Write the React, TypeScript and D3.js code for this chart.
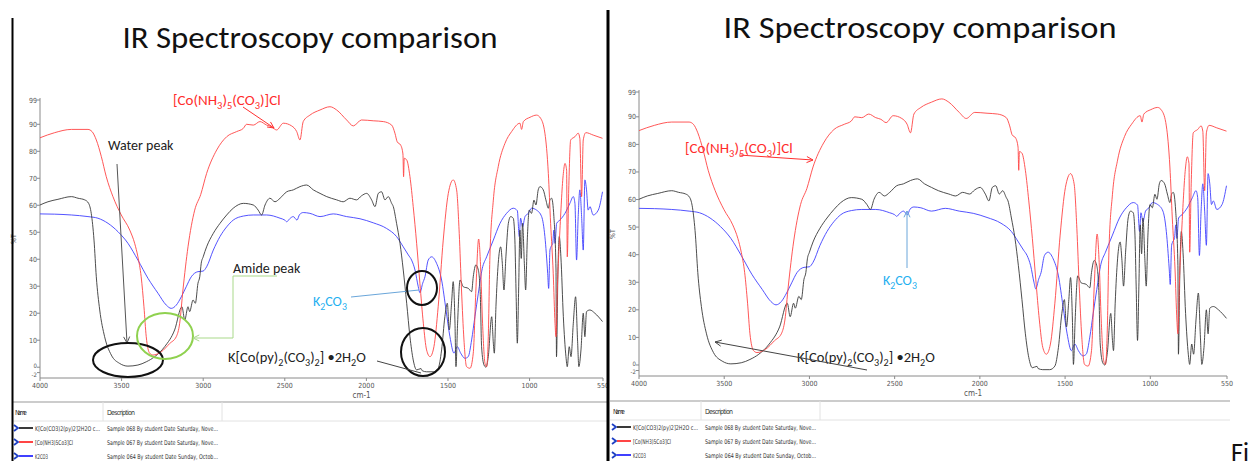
import * as d3 from 'd3';

type Pt = [number, number];
type Seg = [string, boolean];

// axis ticks as printed by the instrument software
const xTicks = [4000, 3500, 3000, 2500, 2000, 1500, 1000, 550];
const yTicks = [99, 90, 80, 70, 60, 50, 40, 30, 20, 10, 0, -2];

// K[Co(py)2(CO3)2]·2H2O (black trace), [wavenumber, %T]
const complexSpectrum: Pt[] = [
  [4000, 60.1], [3951, 61.3], [3890, 62.2], [3808, 63.2], [3767, 62.6], [3726, 62], [3702, 60.7], [3686, 57],
  [3669, 47.1], [3655, 33.5], [3634, 21.2], [3604, 11.3], [3563, 4.5], [3512, 1.4], [3461, 0.4], [3400, 0.8],
  [3349, 2], [3297, 3.9], [3236, 7.6], [3175, 13.8], [3130, 22.4], [3113, 17.5], [3093, 22.4], [3083, 20.6],
  [3062, 24.9], [3048, 23.7], [3032, 31.1], [3021, 33.5], [3012, 38.5], [3000, 40.9], [2979, 44.6], [2938, 49.6],
  [2897, 53.3], [2856, 56.4], [2816, 58.9], [2754, 60.7], [2693, 60.1], [2663, 58.2], [2642, 56.4], [2621, 60.1],
  [2591, 62.6], [2560, 61.3], [2529, 62.6], [2488, 65], [2448, 65.7], [2407, 66.9], [2366, 67.5], [2325, 65.7],
  [2284, 64.4], [2243, 63.2], [2182, 62], [2142, 61.3], [2101, 62.6], [2060, 62], [2030, 63.5], [1998, 64.4],
  [1968, 62], [1947, 59.5], [1927, 64.4], [1907, 65], [1886, 62], [1866, 63.2], [1845, 60.7], [1835, 59.5],
  [1815, 53.3], [1794, 45.9], [1774, 36], [1753, 23.7], [1733, 11.3], [1713, 2.7], [1692, -1], [1665, -0.5],
  [1658, -1.3], [1631, -1.7], [1590, -1.7], [1560, -0.4], [1539, 6.4], [1519, 18.7], [1504, 23.7], [1492, 13.8],
  [1478, 23.7], [1468, 31.7], [1457, 16.3], [1451, 0.2], [1441, 16.3], [1426, 32.3], [1406, 29.8], [1375, 29.2],
  [1355, 28], [1345, 33.5], [1329, 37.9], [1314, 36], [1302, 27], [1294, 7.6], [1279, 0.8], [1267, 0],
  [1253, 3.9], [1232, 18.7], [1222, 8.9], [1216, 5.2], [1206, 22.4], [1192, 38.5], [1177, 44.6], [1167, 38.5],
  [1157, 28.6], [1145, 40.9], [1130, 53.3], [1116, 55.8], [1100, 55.2], [1090, 47.1], [1083, 28.6], [1075, 8.9],
  [1067, 28.6], [1059, 50.8], [1051, 40.3], [1043, 53.3], [1032, 38.5], [1024, 28.6], [1014, 47.1], [1002, 58.2],
  [988, 57], [973, 61.9], [961, 60.1], [947, 65.7], [936, 66.9], [916, 65.7], [900, 62], [885, 58.9],
  [875, 62], [865, 62.6], [851, 55.8], [838, 36], [835, 3.9], [826, 36], [818, 48.4], [808, 40.9],
  [793, 18.7], [777, 3.9], [769, 0.2], [757, 7.6], [746, 3.9], [732, 16.3], [718, 26.1], [706, 10.1],
  [698, 0.2], [685, 6.4], [671, 20], [661, 11.3], [651, 20.6], [630, 21.2], [600, 20], [553, 16.9],
];

// [Co(NH3)5(CO3)]Cl (red trace)
const ammineSpectrum: Pt[] = [
  [4000, 85], [3910, 86.9], [3808, 88.1], [3706, 88.1], [3681, 87.3], [3655, 84.2], [3624, 78], [3594, 70.6],
  [3553, 63.2], [3502, 56.4], [3450, 50.8], [3420, 45.9], [3400, 40.9], [3380, 33.5], [3363, 22.4], [3349, 11.3],
  [3328, 5.2], [3308, 4.5], [3257, 5.7], [3205, 8.8], [3165, 11.3], [3144, 16.3], [3124, 28.6], [3093, 44.6],
  [3052, 58.2], [3015, 64], [2979, 71.8], [2917, 80.5], [2856, 85.4], [2795, 87.3], [2754, 88.5], [2734, 90],
  [2693, 89.7], [2652, 91], [2611, 89.7], [2581, 89.1], [2550, 87.9], [2509, 90.4], [2458, 89.4], [2427, 87.3],
  [2407, 84.2], [2387, 91], [2346, 93.4], [2284, 95.3], [2223, 96.5], [2182, 95.3], [2121, 91.6], [2080, 89.4],
  [2030, 91.6], [1958, 91.3], [1896, 91], [1845, 89.7], [1825, 86.7], [1811, 83.5], [1790, 82.3], [1776, 79],
  [1772, 70.6], [1768, 77.4], [1753, 76.8], [1733, 70.6], [1713, 59.5], [1692, 45.9], [1672, 31.1], [1651, 16.3],
  [1631, 6.4], [1610, 3.9], [1586, 7.6], [1560, 22.4], [1529, 47.1], [1498, 64.4], [1468, 69.4], [1447, 65.7],
  [1431, 49.6], [1417, 28.6], [1402, 10.1], [1386, 0.2], [1365, -0.4], [1345, 5.2], [1329, 28.6], [1312, 47.5],
  [1300, 37.2], [1288, 16.3], [1273, 1.4], [1263, 0.2], [1253, 11.3], [1243, 40.9], [1222, 61.9], [1192, 74.3],
  [1151, 82.9], [1110, 87.3], [1059, 90.4], [1049, 88.1], [1038, 91], [997, 92.6], [957, 93.4], [932, 92.2],
  [906, 86.7], [885, 71.8], [871, 53.3], [855, 34.8], [844, 16.3], [838, 11.3], [830, 28.6], [814, 50.8],
  [793, 71.8], [783, 75.5], [773, 73], [769, 40.9], [760, 65.7], [748, 84.2], [722, 85.4], [702, 86.7],
  [692, 84.8], [681, 63.2], [671, 84.2], [655, 86.9], [610, 86], [553, 84.8],
];

// K2CO3 (blue trace)
const carbonateSpectrum: Pt[] = [
  [4000, 56.8], [3910, 56.7], [3808, 56.4], [3706, 55.8], [3645, 55.2], [3583, 53.3], [3522, 50.2], [3461, 45.9],
  [3400, 39.7], [3338, 32.9], [3277, 27.4], [3226, 23], [3196, 21.8], [3165, 23], [3134, 26.1], [3104, 29.8],
  [3073, 33.5], [3032, 35.4], [3001, 35.6], [2979, 37.2], [2938, 43.4], [2897, 48.4], [2856, 52], [2816, 54.5],
  [2754, 56], [2693, 56.4], [2611, 56.4], [2529, 55.2], [2500, 54.5], [2488, 53.9], [2470, 55], [2448, 55.8],
  [2425, 54.5], [2410, 56.5], [2387, 57.3], [2346, 57], [2284, 55.8], [2203, 56.8], [2121, 55.8], [2039, 55],
  [1958, 53.5], [1876, 51.4], [1815, 48.4], [1774, 44.6], [1743, 41.6], [1723, 39.7], [1702, 36], [1682, 29.8],
  [1672, 27.6], [1655, 31.1], [1641, 33.5], [1621, 39.7], [1600, 40.9], [1570, 38.5], [1539, 32.3], [1512, 21.2],
  [1488, 11.3], [1463, 5.2], [1443, 7.6], [1422, 5.2], [1396, 3.3], [1376, 3.9], [1355, 10.1], [1335, 18.7],
  [1314, 27.4], [1290, 36.5], [1263, 40.9], [1222, 47.1], [1181, 53.3], [1141, 57], [1100, 58.9], [1075, 58],
  [1063, 48.4], [1055, 55.2], [1043, 52], [1028, 55.8], [1008, 57], [988, 58.9], [957, 58.2], [926, 55.8],
  [906, 48.4], [889, 34.8], [883, 29.2], [875, 43.4], [869, 44.6], [858, 45.9], [851, 50.8], [844, 45.9],
  [834, 53.3], [814, 54.5], [783, 57], [753, 60.7], [732, 63.2], [722, 60.7], [712, 39.7], [702, 55.8],
  [692, 65.7], [681, 55.8], [671, 43.4], [661, 69.4], [651, 65.7], [641, 58.2], [630, 59.5], [610, 56.4],
  [579, 58.2], [553, 65],
];

const seriesNames = ['K[Co(CO3)2(py)2]2H2O c...', '[Co(NH3)5Co3]Cl', 'K2CO3'];
const seriesDescriptions = [
  'Sample 068 By student Date Saturday, Nove...',
  'Sample 067 By student Date Saturday, Nove...',
  'Sample 064 By student Date Sunday, Octob...',
];
const seriesColors = ['#3a3a3a', '#ff4545', '#4040ff'];

const ammineLabel: Seg[] = [['[Co(NH', false], ['3', true], [')', false], ['5', true], ['(CO', false], ['3', true], [')]Cl', false]];
const complexLabel: Seg[] = [['K[Co(py)', false], ['2', true], ['(CO', false], ['3', true], [')', false], ['2', true], ['] \u20222H', false], ['2', true], ['O', false]];
const carbonateLabel: Seg[] = [['K', false], ['2', true], ['CO', false], ['3', true]];

const ANNO_FONT = 'Carlito, Lato, "Open Sans", sans-serif';
const SMALL_FONT = '"Liberation Sans Narrow", "DejaVu Sans Condensed", "Liberation Sans", sans-serif';

interface Geom { x0: number; x1: number; yTop: number; yBot: number }

function Chem({ x, y, size, fill, segs }: { x: number; y: number; size: number; fill: string; segs: Seg[] }) {
  const off = size * 0.26;
  let down = false;
  return (
    <text x={x} y={y} fontSize={size} fill={fill} fontFamily={ANNO_FONT}>
      {segs.map(([t, sub], i) => {
        const dy = sub && !down ? off : !sub && down ? -off : 0;
        down = sub;
        return <tspan key={i} dy={dy} fontSize={sub ? size * 0.7 : size}>{t}</tspan>;
      })}
    </text>
  );
}

function Plot({ g }: { g: Geom }) {
  const x = d3.scaleLinear().domain([4000, 550]).range([g.x0, g.x1]);
  const y = d3.scaleLinear().domain([-4, 99]).range([g.yBot, g.yTop]);
  const line = d3.line<Pt>().x(d => x(d[0])).y(d => y(d[1])).curve(d3.curveMonotoneX);
  const spectra = [carbonateSpectrum, complexSpectrum, ammineSpectrum];
  const colors = [seriesColors[2], seriesColors[0], seriesColors[1]];
  return (
    <g>
      <line x1={g.x0} x2={g.x0} y1={y(99) - 2} y2={g.yBot} stroke="#8a8a8a" />
      <line x1={g.x0} x2={g.x1} y1={g.yBot} y2={g.yBot} stroke="#8a8a8a" />
      {yTicks.map(t => (
        <g key={t}>
          <line x1={g.x0 - 3} x2={g.x0} y1={y(t)} y2={y(t)} stroke="#8a8a8a" />
          <text x={g.x0 - 3} y={y(t) + (t === -2 ? 4 : t === 0 ? 1 : 2.5)} fontSize={t < 5 ? 6 : 7} textAnchor="end" fill="#555" fontFamily={SMALL_FONT}>{t}</text>
        </g>
      ))}
      {xTicks.map(t => (
        <g key={t}>
          <line x1={x(t)} x2={x(t)} y1={g.yBot} y2={g.yBot + 3} stroke="#8a8a8a" />
          <text x={x(t)} y={g.yBot + 10} fontSize={7} textAnchor="middle" fill="#555" fontFamily={SMALL_FONT}>{t}</text>
        </g>
      ))}
      <text transform={`translate(${g.x0 - 24},${(g.yTop + g.yBot) / 2}) rotate(-90)`} fontSize={7} textAnchor="middle" fill="#555" fontFamily={SMALL_FONT}>%T</text>
      <text x={(g.x0 + g.x1) / 2 + 40} y={g.yBot + 20} fontSize={8} textAnchor="middle" fill="#555" fontFamily={SMALL_FONT}>cm-1</text>
      {spectra.map((s, i) => (
        <path key={i} d={line(s) ?? ''} fill="none" stroke={colors[i]} strokeWidth={1} strokeOpacity={0.9} />
      ))}
    </g>
  );
}

function Legend({ dx, top, right }: { dx: number; top: number; right: number }) {
  const nameLen = [65, 38, 13];
  return (
    <g fontFamily={SMALL_FONT} fill="#333">
      <line x1={dx - 2} x2={right} y1={top} y2={top} stroke="#9a9a9a" strokeWidth={1.2} />
      <line x1={dx - 2} x2={right} y1={top + 19} y2={top + 19} stroke="#e2e2e2" />
      <line x1={dx + 89} x2={dx + 89} y1={top} y2={top + 19} stroke="#e2e2e2" />
      <line x1={dx + 208} x2={dx + 208} y1={top} y2={top + 19} stroke="#e2e2e2" />
      <text x={dx + 1} y={top + 13} fontSize={7} textLength={12}>Name</text>
      <text x={dx + 93} y={top + 13} fontSize={7} textLength={28}>Description</text>
      {seriesNames.map((n, i) => {
        const cy = top + 26 + i * 14;
        return (
          <g key={n}>
            <polyline points={`${dx},${cy - 3} ${dx + 4},${cy} ${dx},${cy + 3}`} fill="none" stroke="#1d3fc4" strokeWidth={1.8} />
            <line x1={dx + 5} x2={dx + 19} y1={cy} y2={cy} stroke={seriesColors[i]} strokeWidth={2} />
            <text x={dx + 21} y={cy + 2.5} fontSize={6.5} textLength={nameLen[i]} lengthAdjust="spacingAndGlyphs">{n}</text>
            <text x={dx + 93} y={cy + 2.5} fontSize={6.5} textLength={111} lengthAdjust="spacingAndGlyphs">{seriesDescriptions[i]}</text>
          </g>
        );
      })}
    </g>
  );
}

function Arrow({ x1, y1, x2, y2, color, head = true, w = 1 }: { x1: number; y1: number; x2: number; y2: number; color: string; head?: boolean; w?: number }) {
  const a = Math.atan2(y2 - y1, x2 - x1);
  const L = 7, s = 0.45;
  const p1 = [x2 - L * Math.cos(a - s), y2 - L * Math.sin(a - s)];
  const p2 = [x2 - L * Math.cos(a + s), y2 - L * Math.sin(a + s)];
  return (
    <g stroke={color} strokeWidth={w} fill="none">
      <line x1={x1} y1={y1} x2={x2} y2={y2} />
      {head && <polyline points={`${p1[0]},${p1[1]} ${x2},${y2} ${p2[0]},${p2[1]}`} />}
    </g>
  );
}

export default function App() {
  const left: Geom = { x0: 40, x1: 603, yTop: 100, yBot: 378 };
  const right: Geom = { x0: 639, x1: 1227, yTop: 92, yBot: 376 };
  return (
    <svg width={1260} height={461} style={{ position: 'absolute', left: 0, top: 0, background: '#fff' }}>
      <rect width={1260} height={461} fill="#fff" />

      {/* left slide */}
      <text x={310} y={48} fontSize={30} textAnchor="middle" fill="#111" fontFamily={ANNO_FONT} textLength={375} lengthAdjust="spacingAndGlyphs">IR Spectroscopy comparison</text>
      <Plot g={left} />
      <Legend dx={14} top={402} right={607} />
      <Chem x={173} y={105} size={15} fill="#ff2b2b" segs={ammineLabel} />
      <Arrow x1={243} y1={107} x2={274} y2={128} color="#ff3030" />
      <text x={108} y={150} fontSize={14} fill="#222" fontFamily={ANNO_FONT}>Water peak</text>
      <Arrow x1={117} y1={164} x2={127} y2={343} color="#555" />
      <ellipse cx={128} cy={360} rx={35} ry={17} fill="none" stroke="#111" strokeWidth={2} />
      <ellipse cx={165} cy={336} rx={28} ry={23} fill="none" stroke="#8fd14f" strokeWidth={2} />
      <text x={233} y={273} fontSize={14} fill="#222" fontFamily={ANNO_FONT}>Amide peak</text>
      <polyline points="277,276 233,276 233,338" fill="none" stroke="#a9d98a" strokeWidth={1} />
      <Arrow x1={233} y1={338} x2={193} y2={338} color="#a9d98a" />
      <Chem x={313} y={306} size={14} fill="#1fb0f0" segs={carbonateLabel} />
      <Arrow x1={351} y1={297} x2={419} y2={290} color="#6aa6da" head={false} />
      <ellipse cx={422} cy={288} rx={15} ry={17} fill="none" stroke="#111" strokeWidth={2} />
      <ellipse cx={423} cy={352} rx={22} ry={24} fill="none" stroke="#111" strokeWidth={2} />
      <Chem x={228} y={362} size={14.5} fill="#222" segs={complexLabel} />
      <Arrow x1={377} y1={361} x2={421} y2={373} color="#444" head={false} />

      {/* right slide */}
      <text x={920} y={38} fontSize={31} textAnchor="middle" fill="#111" fontFamily={ANNO_FONT} textLength={393} lengthAdjust="spacingAndGlyphs">IR Spectroscopy comparison</text>
      <Plot g={right} />
      <Legend dx={612} top={401} right={1230} />
      <Chem x={685} y={153} size={15} fill="#ff2b2b" segs={ammineLabel} />
      <Arrow x1={739} y1={155} x2={813} y2={160} color="#ff3030" />
      <Chem x={883} y={285} size={14} fill="#1fb0f0" segs={carbonateLabel} />
      <Arrow x1={907} y1={268} x2={907} y2={211} color="#6aa6da" />
      <Chem x={797} y={362} size={14.5} fill="#222" segs={complexLabel} />
      <Arrow x1={867} y1={370} x2={715} y2={342} color="#444" />

      {/* slide borders */}
      <line x1={12.5} x2={12.5} y1={18} y2={461} stroke="#000" strokeWidth={2} />
      <line x1={608} x2={608} y1={10} y2={461} stroke="#000" strokeWidth={3} />
      <text x={1231} y={461} fontSize={26} fill="#111" fontFamily={ANNO_FONT}>Fi</text>
    </svg>
  );
}
